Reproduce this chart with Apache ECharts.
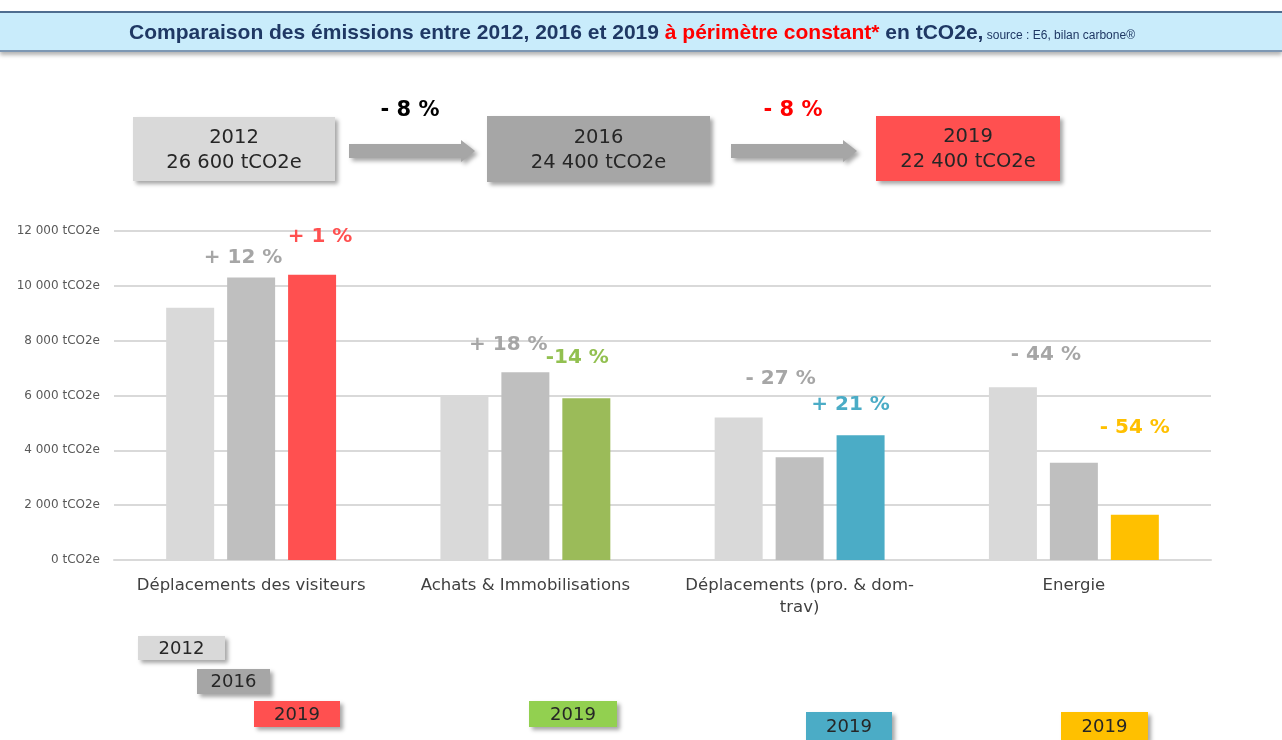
<!DOCTYPE html>
<html lang="fr">
<head>
<meta charset="UTF-8">
<title>Emissions 2012-2019</title>
<script src="https://cdn.jsdelivr.net/npm/echarts@6/dist/echarts.min.js"></script>
<style>
html, body { margin: 0; padding: 0; background: #fff; }
#main { width: 1282px; height: 740px; }
</style>
</head>
<body>
<div id="main"></div>
<script>
// donnees
var categories = ['Déplacements des visiteurs', 'Achats & Immobilisations', 'Déplacements (pro. & dom-\ntrav)', 'Energie'];
var values2012 = [9200, 5950, 5200, 6300];
var values2016 = [10300, 6850, 3750, 3550];
var values2019 = [10400, 5900, 4550, 1650];
var change2016 = ['+ 12 %', '+ 18 %', '- 27 %', '- 44 %'];
var change2019 = ['+ 1 %', '-14 %', '+ 21 %', '- 54 %'];
var years = ['2012', '2016', '2019'];
var yearTotals = ['26 600 tCO2e', '24 400 tCO2e', '22 400 tCO2e'];
var totalChanges = ['- 8 %', '- 8 %'];

// couleurs / placement
var colors2019 = ['#ff5050', '#9bbb59', '#4bacc6', '#ffc000'];
var labelColors2019 = ['#ff5050', '#92c050', '#4bacc6', '#ffc000'];
var legendColors2019 = ['#ff5050', '#92d050', '#4bacc6', '#ffc000'];
var off2016 = [[-8, -5], [-17, -12], [-19, -63], [-28, -93]];
var off2019 = [[8, -23], [-9, -25], [-10, -15], [0, -72]];

var FONT = '"DejaVu Sans", sans-serif';
var shadow = { shadowBlur: 4, shadowOffsetX: 3, shadowOffsetY: 3, shadowColor: 'rgba(0,0,0,0.35)' };

function fmt(v) {
    return String(v).replace(/\B(?=(\d{3})+(?!\d))/g, ' ') + ' tCO2e';
}

function box(x, y, w, h, fill, txt, size, lh) {
    return [
        { type: 'rect', shape: { x: x, y: y, width: w, height: h },
          style: Object.assign({ fill: fill }, shadow), z: 10 },
        { type: 'text', x: x + w / 2, y: y + h / 2 + 1, z: 11,
          style: { text: txt, fill: '#262626', font: size + 'px ' + FONT, lineHeight: lh || size,
                   textAlign: 'center', align: 'center', textVerticalAlign: 'middle', verticalAlign: 'middle' } }
    ];
}

function arrow(x, y) {
    return { type: 'polygon', z: 10,
        shape: { points: [[x, y - 7], [x + 112, y - 7], [x + 112, y - 11], [x + 126, y], [x + 112, y + 11], [x + 112, y + 7], [x, y + 7]] },
        style: Object.assign({ fill: '#a6a6a6' }, shadow) };
}

function bigText(x, y, txt, color) {
    return { type: 'text', x: x, y: y, z: 11,
        style: { text: txt, fill: color, font: 'bold 21px ' + FONT,
                 textAlign: 'center', align: 'center', textVerticalAlign: 'middle', verticalAlign: 'middle' } };
}

var graphics = [];
// bandeau titre
graphics.push({ type: 'rect', shape: { x: 0, y: 12, width: 1282, height: 40 },
    style: { fill: '#c9ecfb', shadowBlur: 4, shadowOffsetY: 3, shadowColor: 'rgba(0,0,0,0.3)' } });
graphics.push({ type: 'rect', shape: { x: 0, y: 11, width: 1282, height: 2 }, style: { fill: '#4f6d8f' } });
graphics.push({ type: 'rect', shape: { x: 0, y: 50, width: 1282, height: 2 }, style: { fill: '#7d97b3' } });
graphics.push({ type: 'text', x: 632, y: 33, z: 5,
    style: {
        text: '{a|Comparaison des émissions entre 2012, 2016 et 2019 }{r|à périmètre constant*}{a| en tCO2e,}{s| source : E6, bilan carbone®}',
        textAlign: 'center', align: 'center', textVerticalAlign: 'middle', verticalAlign: 'middle',
        rich: {
            a: { fill: '#1f3864', color: '#1f3864', fontFamily: 'Liberation Sans', fontWeight: 'bold', fontSize: 21 },
            r: { fill: '#ff0000', color: '#ff0000', fontFamily: 'Liberation Sans', fontWeight: 'bold', fontSize: 21 },
            s: { fill: '#1f3864', color: '#1f3864', fontFamily: 'Liberation Sans', fontSize: 12, padding: [6, 0, 0, 0] }
        }
    } });

// boites des totaux
graphics = graphics.concat(box(133, 117, 202, 64, '#d9d9d9', years[0] + '\n' + yearTotals[0], 19.5, 25));
graphics = graphics.concat(box(487, 116, 223, 66, '#a6a6a6', years[1] + '\n' + yearTotals[1], 19.5, 25));
graphics = graphics.concat(box(876, 116, 184, 65, '#ff5050', years[2] + '\n' + yearTotals[2], 19.5, 25));
graphics.push(arrow(349, 151));
graphics.push(arrow(731, 151));
graphics.push(bigText(410, 111, totalChanges[0], '#000000'));
graphics.push(bigText(793, 111, totalChanges[1], '#ff0000'));

// etiquettes du bas
graphics = graphics.concat(box(138, 636, 87, 24, '#d9d9d9', years[0], 18));
graphics = graphics.concat(box(197, 669, 73, 25, '#a6a6a6', years[1], 18));
graphics = graphics.concat(box(254, 701, 86, 26, legendColors2019[0], years[2], 18));
graphics = graphics.concat(box(529, 701, 88, 26, legendColors2019[1], years[2], 18));
graphics = graphics.concat(box(806, 712, 86, 28, legendColors2019[2], years[2], 18));
graphics = graphics.concat(box(1061, 712, 87, 28, legendColors2019[3], years[2], 18));

function pctData(values, labels, offsets, barColors, textColors) {
    return values.map(function (v, i) {
        return {
            value: v,
            itemStyle: barColors ? { color: barColors[i] } : undefined,
            label: {
                show: true, position: 'top', formatter: labels[i], offset: offsets[i],
                color: textColors ? textColors[i] : '#a6a6a6',
                fontFamily: FONT, fontWeight: 'bold', fontSize: 20
            }
        };
    });
}

var chart = echarts.init(document.getElementById('main'));
var option = {
    animation: false,
    backgroundColor: '#ffffff',
    grid: { left: 114, right: 71, top: 231, bottom: 180 },
    xAxis: {
        type: 'category',
        data: categories,
        axisTick: { show: false },
        axisLine: { lineStyle: { color: '#d9d9d9', width: 2 } },
        axisLabel: { color: '#404040', fontSize: 16.5, fontFamily: FONT, margin: 15, lineHeight: 22, interval: 0 }
    },
    yAxis: {
        type: 'value',
        min: 0, max: 12000, interval: 2000,
        axisLine: { show: false },
        axisTick: { show: false },
        splitLine: { lineStyle: { color: '#d9d9d9', width: 2 } },
        axisLabel: { color: '#595959', fontSize: 12, fontFamily: FONT, margin: 14, formatter: fmt }
    },
    series: [
        { name: years[0], type: 'bar', barWidth: 48, barGap: '27%', data: values2012,
          itemStyle: { color: '#d9d9d9' } },
        { name: years[1], type: 'bar', barWidth: 48, barGap: '27%',
          data: pctData(values2016, change2016, off2016, null, null),
          itemStyle: { color: '#bfbfbf' } },
        { name: years[2], type: 'bar', barWidth: 48, barGap: '27%',
          data: pctData(values2019, change2019, off2019, colors2019, labelColors2019) }
    ],
    graphic: graphics
};
chart.setOption(option);
</script>
</body>
</html>
